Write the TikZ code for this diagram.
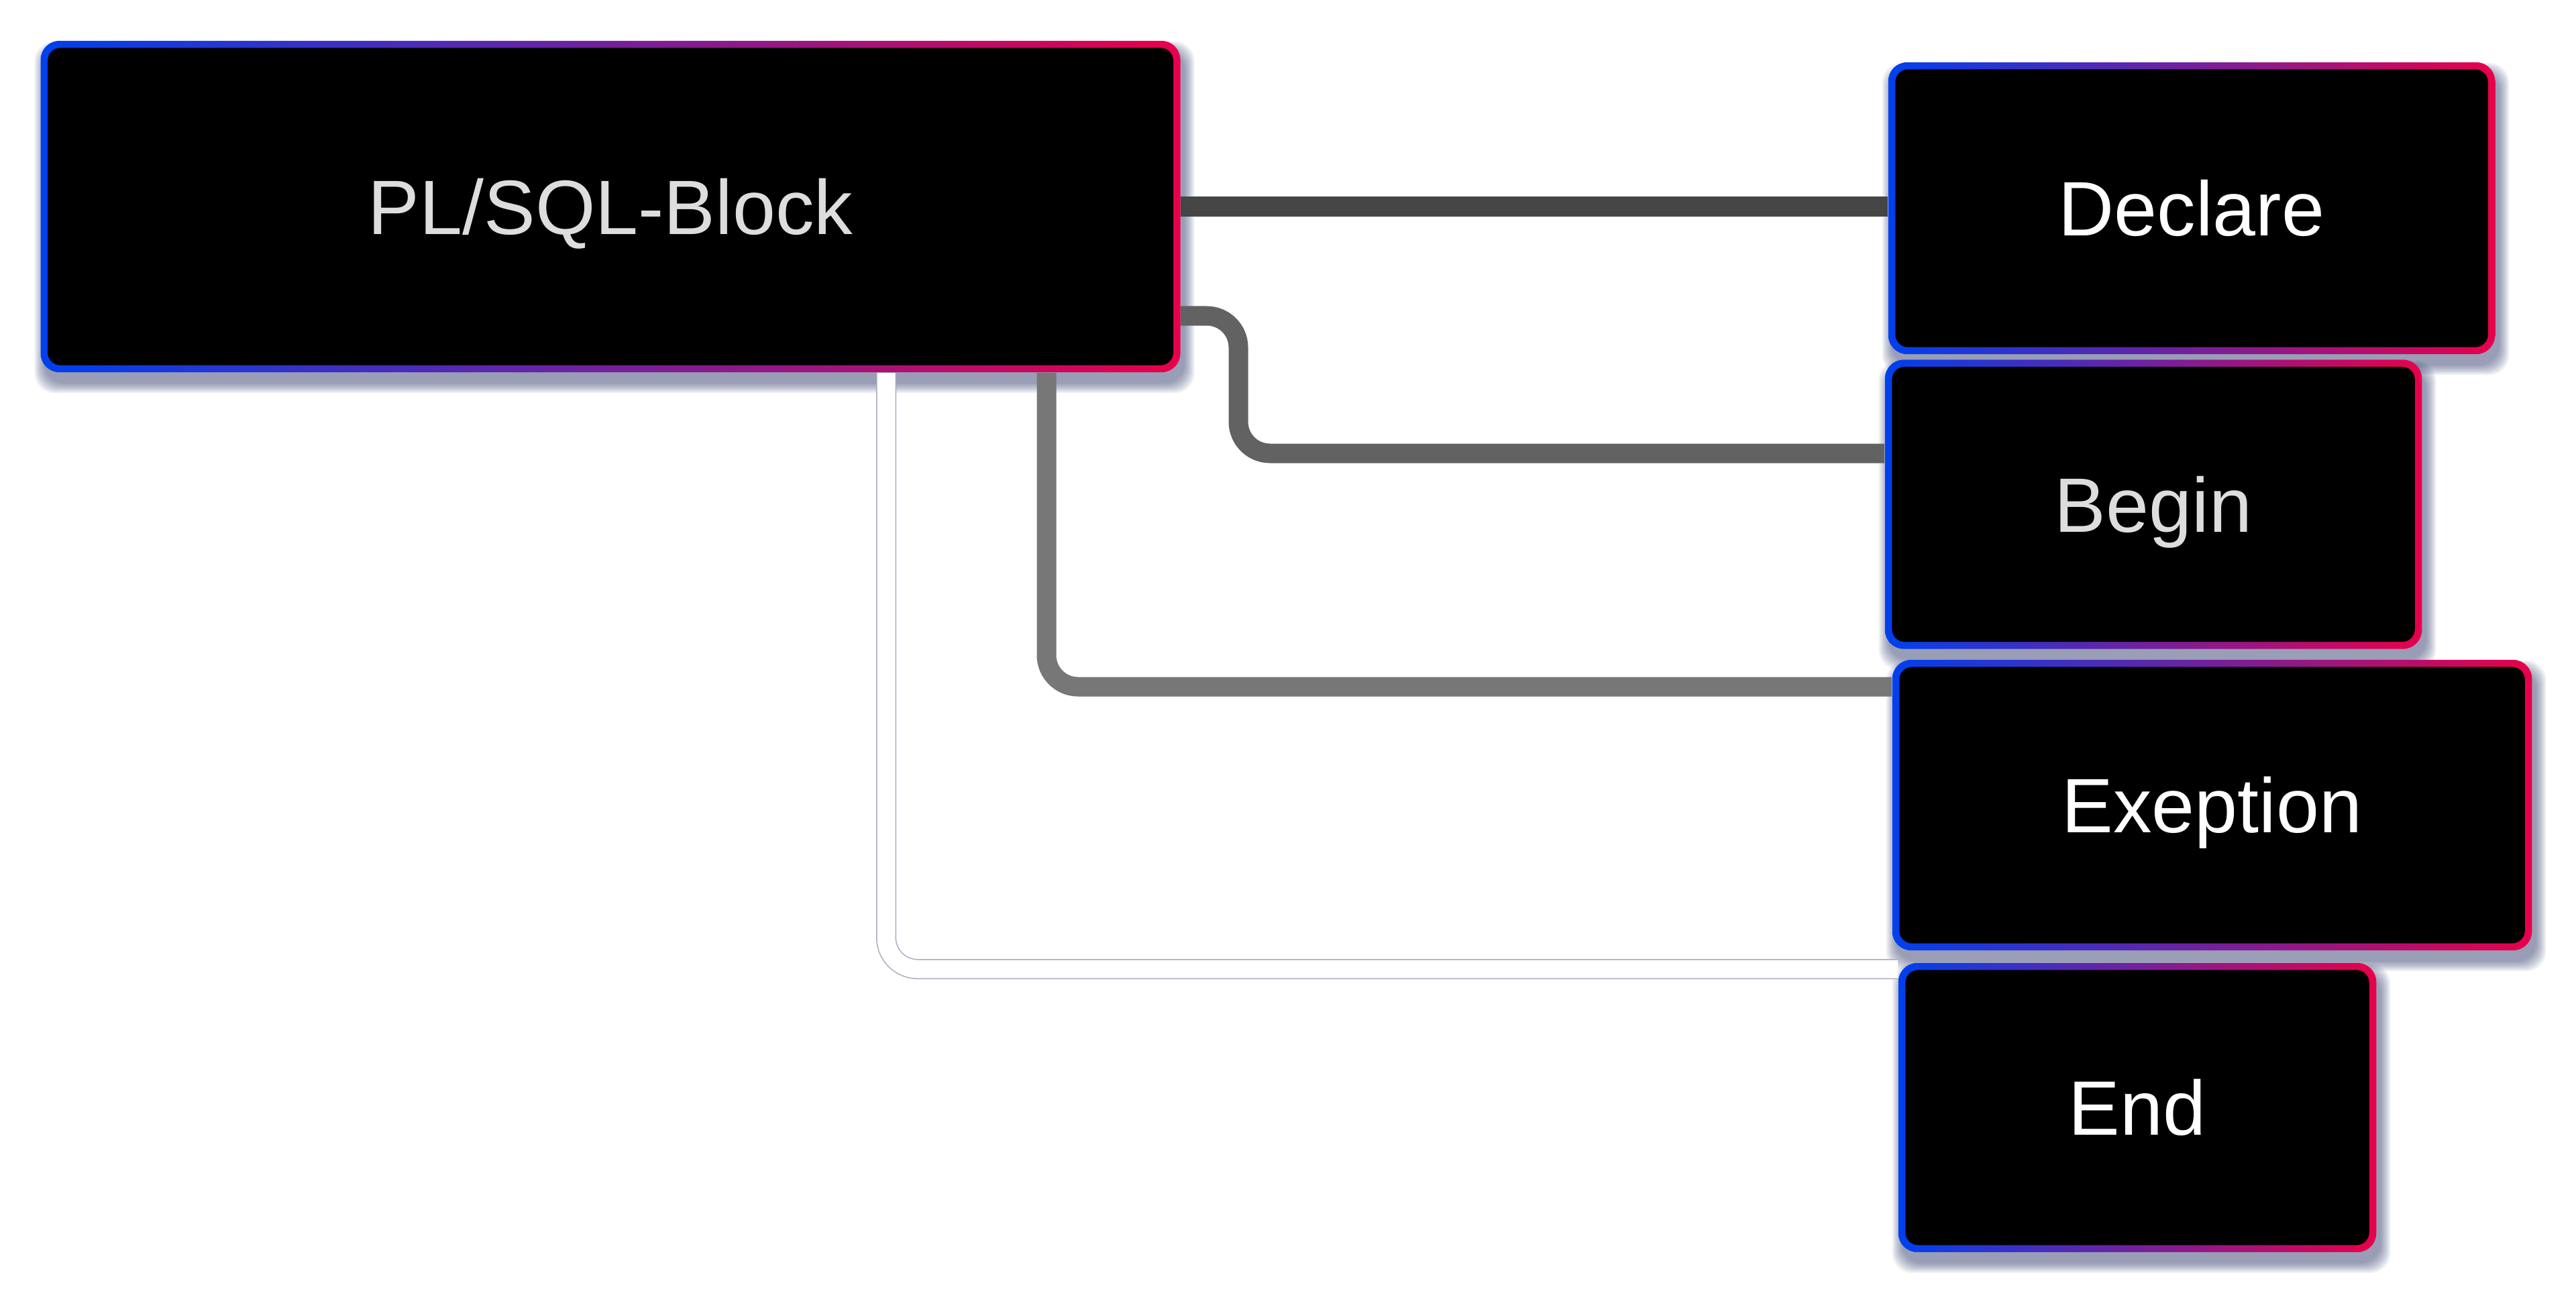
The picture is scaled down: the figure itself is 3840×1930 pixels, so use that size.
\documentclass[tikz,border=0pt]{standalone}
\usepackage{fontspec}
\setmainfont{Liberation Sans}
\usetikzlibrary{backgrounds,calc}
\definecolor{cblue}{HTML}{0040EE}
\definecolor{cred}{HTML}{E8004A}
\definecolor{shadowc}{HTML}{1E2A5E}
\definecolor{lineA}{HTML}{454545}
\definecolor{lineB}{HTML}{626262}
\definecolor{lineC}{HTML}{777777}
\definecolor{outlinec}{HTML}{6A7090}
\definecolor{txtgray}{HTML}{DDDDDD}
\tikzset{
  gbox/.style={rectangle, rounded corners=0.28cm, left color=cblue, right color=cred,
    inner sep=0pt, text=white, text height=0.82cm, text depth=0pt,
    font=\fontsize{32.7pt}{39pt}\selectfont,
    path picture={\fill[black, rounded corners=0.19cm]
      ([shift={(0.105cm,0.105cm)}]path picture bounding box.south west) rectangle
      ([shift={(-0.105cm,-0.105cm)}]path picture bounding box.north east);}},
  conn/.style={line width=0.29cm, rounded corners=0.47cm, line cap=butt},
}
\begin{document}
\begin{tikzpicture}[x=0.01cm,y=-0.01cm]
\useasboundingbox (0,0) rectangle (3840,1930);
\node[gbox, minimum width=16.98cm, minimum height=4.94cm, text=txtgray] (main) at (910,308) {PL/SQL-Block};
\node[gbox, minimum width=9.04cm, minimum height=4.35cm] (declare) at (3267,310.5) {Declare};
\node[gbox, minimum width=8.00cm, minimum height=4.31cm, text=txtgray] (begin) at (3210,752) {Begin};
\node[gbox, minimum width=9.53cm, minimum height=4.33cm] (exeption) at (3297.5,1200.5) {Exeption};
\node[gbox, minimum width=7.12cm, minimum height=4.31cm] (end) at (3186,1651.5) {End};
\coordinate (b0) at (0,471);
\coordinate (b1) at (1846,676);
\coordinate (e1) at (1560,1024);
\coordinate (n1) at (1321,1445);
\begin{scope}[on background layer]
  \foreach \nd in {main,declare,begin,exeption,end}{
    \foreach \k in {0,...,9}{
      \pgfmathsetmacro{\e}{1.6*\k}
      \fill[shadowc, opacity=0.06, rounded corners=0.3cm]
        ([shift={(6-\e,16+\e)}]\nd.south west) rectangle ([shift={(6+\e,16-\e)}]\nd.north east);
    }
  }
  \draw[conn, lineA] (main.east) -- (main.east -| declare.west);
  \draw[conn, lineB] (main.east |- b0) -| (b1) -- (b1 -| begin.west);
  \draw[conn, lineC] (e1 |- main.south) -- (e1) -- (e1 -| exeption.west);
  \draw[line width=0.015cm, double=white, double distance=0.27cm, draw=outlinec!60, rounded corners=0.47cm]
    (n1 |- main.south) -- (n1) -- (n1 -| end.west);
\end{scope}
\end{tikzpicture}
\end{document}
